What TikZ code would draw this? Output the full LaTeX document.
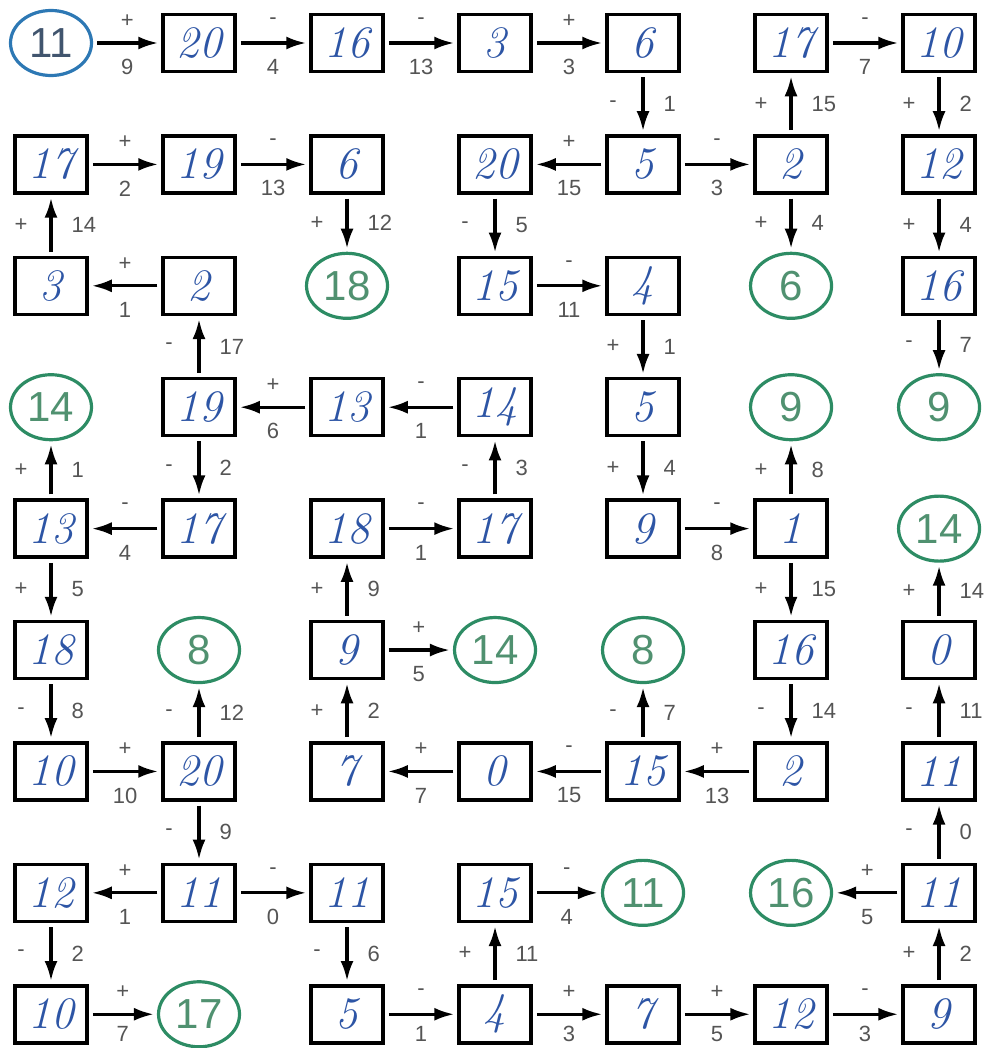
\documentclass[tikz,border=0pt]{standalone}
\usepackage{fontspec}
\usepackage{tikz}
\usetikzlibrary{arrows.meta, shapes.geometric}
\newfontfamily\lblfont{Liberation Sans}
\definecolor{handblue}{RGB}{45,85,165}
\definecolor{goalgreen}{RGB}{45,140,100}
\definecolor{goaltext}{RGB}{80,145,112}
\definecolor{startblue}{RGB}{45,120,180}
\definecolor{starttext}{RGB}{65,85,110}
\definecolor{lblgray}{RGB}{85,85,85}
\tikzset{
  numbox/.style={draw, line width=3.5pt, minimum width=72pt, minimum height=57pt, inner sep=0pt,
    text=handblue, font=\fontsize{45}{45}\selectfont\itshape},
  endnode/.style={ellipse, draw=goalgreen, line width=3.2pt, minimum width=81pt, minimum height=65pt,
    inner sep=0pt, text=goaltext, font=\lblfont\fontsize{42}{42}\selectfont},
  startnode/.style={endnode, draw=startblue, text=starttext},
  arr/.style={-{Latex[length=20pt,width=13pt]}, line width=3.2pt, shorten <=4pt, shorten >=3pt},
  lbl/.style={inner sep=0pt, text=lblgray, font=\lblfont\fontsize{22}{22}\selectfont},
  sh/.style={lbl, yshift=22pt},
  nh/.style={lbl, yshift=-24pt},
  nhb/.style={lbl, yshift=-20pt},
  sv/.style={lbl, xshift=-30pt},
  nv/.style={lbl, anchor=west, xshift=19pt}
}
\begin{document}
\begin{tikzpicture}[x=148pt, y=-121.4pt]
  \useasboundingbox (-0.3446,-0.3542) rectangle (6.358,8.278);
  % 1段目
  \node[startnode] (a1) at (0,0) {11}; %スタート
  \node[numbox] (a2) at (1,0) {20}; \node[numbox] (a3) at (2,0) {16};
  \node[numbox] (a4) at (3,0) {3};  \node[numbox] (a5) at (4,0) {6};
  \node[numbox] (a6) at (5,0) {17}; \node[numbox] (a7) at (6,0) {10};
  % 2段目
  \node[numbox] (b1) at (0,1) {17}; \node[numbox] (b2) at (1,1) {19};
  \node[numbox] (b3) at (2,1) {6};  \node[numbox] (b4) at (3,1) {20};
  \node[numbox] (b5) at (4,1) {5};  \node[numbox] (b6) at (5,1) {2};
  \node[numbox] (b7) at (6,1) {12};
  % 3段目
  \node[numbox] (c1) at (0,2) {3};  \node[numbox] (c2) at (1,2) {2};
  \node[endnode] (c3) at (2,2) {18}; \node[numbox] (c4) at (3,2) {15};
  \node[numbox] (c5) at (4,2) {4};  \node[endnode] (c6) at (5,2) {6};
  \node[numbox] (c7) at (6,2) {16};
  % 4段目
  \node[endnode] (d1) at (0,3) {14}; \node[numbox] (d2) at (1,3) {19};
  \node[numbox] (d3) at (2,3) {13}; \node[numbox] (d4) at (3,3) {14};
  \node[numbox] (d5) at (4,3) {5};  \node[endnode] (d6) at (5,3) {9};
  \node[endnode] (d7) at (6,3) {9};
  % 5段目
  \node[numbox] (e1) at (0,4) {13}; \node[numbox] (e2) at (1,4) {17};
  \node[numbox] (e3) at (2,4) {18}; \node[numbox] (e4) at (3,4) {17};
  \node[numbox] (e5) at (4,4) {9};  \node[numbox] (e6) at (5,4) {1};
  \node[endnode] (e7) at (6,4) {14};
  % 6段目
  \node[numbox] (f1) at (0,5) {18}; \node[endnode] (f2) at (1,5) {8};
  \node[numbox] (f3) at (2,5) {9};  \node[endnode] (f4) at (3,5) {14};
  \node[endnode] (f5) at (4,5) {8}; \node[numbox] (f6) at (5,5) {16};
  \node[numbox] (f7) at (6,5) {0};
  % 7段目
  \node[numbox] (g1) at (0,6) {10}; \node[numbox] (g2) at (1,6) {20};
  \node[numbox] (g3) at (2,6) {7};  \node[numbox] (g4) at (3,6) {0};
  \node[numbox] (g5) at (4,6) {15}; \node[numbox] (g6) at (5,6) {2};
  \node[numbox] (g7) at (6,6) {11};
  % 8段目
  \node[numbox] (h1) at (0,7) {12}; \node[numbox] (h2) at (1,7) {11};
  \node[numbox] (h3) at (2,7) {11}; \node[numbox] (h4) at (3,7) {15};
  \node[endnode] (h5) at (4,7) {11}; \node[endnode] (h6) at (5,7) {16};
  \node[numbox] (h7) at (6,7) {11};
  % 9段目
  \node[numbox] (i1) at (0,8) {10}; \node[endnode] (i2) at (1,8) {17};
  \node[numbox] (i3) at (2,8) {5};  \node[numbox] (i4) at (3,8) {4};
  \node[numbox] (i5) at (4,8) {7};  \node[numbox] (i6) at (5,8) {12};
  \node[numbox] (i7) at (6,8) {9};

  % 横の矢印
  \draw[arr] (a1) -- node[sh]{+} node[nh]{9} (a2);
  \draw[arr] (a2) -- node[sh]{-} node[nh]{4} (a3);
  \draw[arr] (a3) -- node[sh]{-} node[nh]{13} (a4);
  \draw[arr] (a4) -- node[sh]{+} node[nh]{3} (a5);
  \draw[arr] (a6) -- node[sh]{-} node[nh]{7} (a7);
  \draw[arr] (b1) -- node[sh]{+} node[nh]{2} (b2);
  \draw[arr] (b2) -- node[sh]{-} node[nh]{13} (b3);
  \draw[arr] (b5) -- node[sh]{+} node[nh]{15} (b4);
  \draw[arr] (b5) -- node[sh]{-} node[nh]{3} (b6);
  \draw[arr] (c2) -- node[sh]{+} node[nh]{1} (c1);
  \draw[arr] (c4) -- node[sh]{-} node[nh]{11} (c5);
  \draw[arr] (d3) -- node[sh]{+} node[nh]{6} (d2);
  \draw[arr] (d4) -- node[sh]{-} node[nh]{1} (d3);
  \draw[arr] (e2) -- node[sh]{-} node[nh]{4} (e1);
  \draw[arr] (e3) -- node[sh]{-} node[nh]{1} (e4);
  \draw[arr] (e5) -- node[sh]{-} node[nh]{8} (e6);
  \draw[arr] (f3) -- node[sh]{+} node[nh]{5} (f4);
  \draw[arr] (g1) -- node[sh]{+} node[nh]{10} (g2);
  \draw[arr] (g4) -- node[sh]{+} node[nh]{7} (g3);
  \draw[arr] (g5) -- node[sh]{-} node[nh]{15} (g4);
  \draw[arr] (g6) -- node[sh]{+} node[nh]{13} (g5);
  \draw[arr] (h2) -- node[sh]{+} node[nh]{1} (h1);
  \draw[arr] (h2) -- node[sh]{-} node[nh]{0} (h3);
  \draw[arr] (h4) -- node[sh]{-} node[nh]{4} (h5);
  \draw[arr] (h7) -- node[sh]{+} node[nh]{5} (h6);
  \draw[arr] (i1) -- node[sh]{+} node[nhb]{7} (i2);
  \draw[arr] (i3) -- node[sh]{-} node[nhb]{1} (i4);
  \draw[arr] (i4) -- node[sh]{+} node[nhb]{3} (i5);
  \draw[arr] (i5) -- node[sh]{+} node[nhb]{5} (i6);
  \draw[arr] (i6) -- node[sh]{-} node[nhb]{3} (i7);

  % 縦の矢印
  \draw[arr] (a5) -- node[sv]{-} node[nv]{1} (b5);
  \draw[arr] (b6) -- node[sv]{+} node[nv]{15} (a6);
  \draw[arr] (a7) -- node[sv]{+} node[nv]{2} (b7);
  \draw[arr] (c1) -- node[sv]{+} node[nv]{14} (b1);
  \draw[arr] (b3) -- node[sv]{+} node[nv]{12} (c3);
  \draw[arr] (b4) -- node[sv]{-} node[nv]{5} (c4);
  \draw[arr] (b6) -- node[sv]{+} node[nv]{4} (c6);
  \draw[arr] (b7) -- node[sv]{+} node[nv]{4} (c7);
  \draw[arr] (d2) -- node[sv]{-} node[nv]{17} (c2);
  \draw[arr] (c5) -- node[sv]{+} node[nv]{1} (d5);
  \draw[arr] (c7) -- node[sv]{-} node[nv]{7} (d7);
  \draw[arr] (e1) -- node[sv]{+} node[nv]{1} (d1);
  \draw[arr] (d2) -- node[sv]{-} node[nv]{2} (e2);
  \draw[arr] (e4) -- node[sv]{-} node[nv]{3} (d4);
  \draw[arr] (d5) -- node[sv]{+} node[nv]{4} (e5);
  \draw[arr] (e6) -- node[sv]{+} node[nv]{8} (d6);
  \draw[arr] (e1) -- node[sv]{+} node[nv]{5} (f1);
  \draw[arr] (f3) -- node[sv]{+} node[nv]{9} (e3);
  \draw[arr] (e6) -- node[sv]{+} node[nv]{15} (f6);
  \draw[arr] (f7) -- node[sv]{+} node[nv]{14} (e7);
  \draw[arr] (f1) -- node[sv]{-} node[nv]{8} (g1);
  \draw[arr] (g2) -- node[sv]{-} node[nv]{12} (f2);
  \draw[arr] (g3) -- node[sv]{+} node[nv]{2} (f3);
  \draw[arr] (g5) -- node[sv]{-} node[nv]{7} (f5);
  \draw[arr] (f6) -- node[sv]{-} node[nv]{14} (g6);
  \draw[arr] (g7) -- node[sv]{-} node[nv]{11} (f7);
  \draw[arr] (g2) -- node[sv]{-} node[nv]{9} (h2);
  \draw[arr] (h7) -- node[sv]{-} node[nv]{0} (g7);
  \draw[arr] (h1) -- node[sv]{-} node[nv]{2} (i1);
  \draw[arr] (h3) -- node[sv]{-} node[nv]{6} (i3);
  \draw[arr] (i4) -- node[sv]{+} node[nv]{11} (h4);
  \draw[arr] (i7) -- node[sv]{+} node[nv]{2} (h7);
\end{tikzpicture}
\end{document}
